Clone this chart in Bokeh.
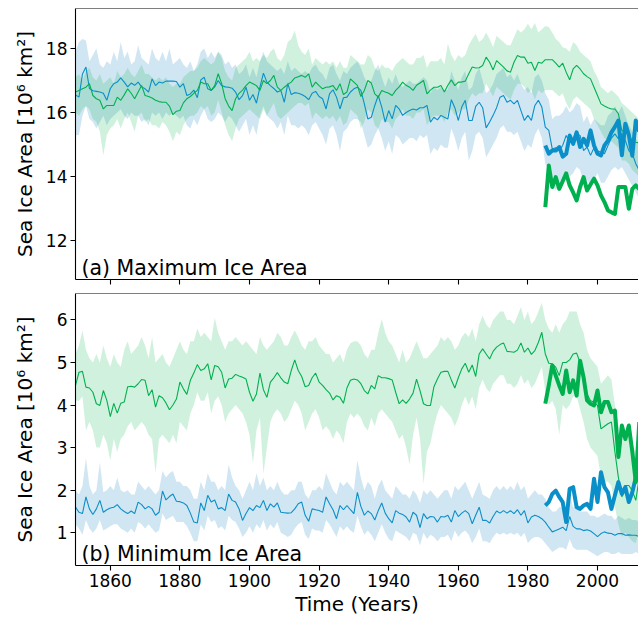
from bokeh.plotting import figure
from bokeh.layouts import column
from bokeh.models import Range1d, FixedTicker, Span, Label, CustomLabelingPolicy
from bokeh.embed import file_html
from bokeh.resources import INLINE

# ---------------- data ----------------
years = list(range(1850, 2013))
obs_years = list(range(1985, 2013))
x_ticks = [1860, 1880, 1900, 1920, 1940, 1960, 1980, 2000]
max_ticks = [12, 14, 16, 18]
min_ticks = [1, 2, 3, 4, 5, 6]

# (a) Maximum ice area, blue ensemble
max_blue_mean = [
    16.55, 16.48, 17.20, 17.42, 16.75, 16.68, 16.66, 16.64, 16.60, 16.38,
    16.75, 16.90, 16.95, 17.08, 16.95, 16.80, 16.92, 16.85, 16.95, 16.80,
    16.74, 16.64, 17.05, 16.84, 16.95, 16.92, 16.98, 16.98, 16.98, 16.97,
    16.79, 16.90, 16.53, 16.58, 16.70, 16.46, 17.02, 17.10, 16.74, 16.69,
    16.80, 17.00, 16.84, 16.80, 16.79, 16.76, 16.64, 16.40, 16.53, 16.79,
    16.38, 16.56, 16.29, 16.79, 17.23, 16.95, 16.84, 16.75, 16.64, 16.69,
    16.32, 16.90, 16.56, 16.62, 16.60, 16.56, 16.50, 16.40, 16.60, 16.66,
    16.50, 16.43, 16.11, 16.58, 16.71, 16.48, 16.11, 16.46, 16.48, 16.64,
    16.74, 16.79, 16.69, 16.27, 15.80, 15.85, 16.22, 16.53, 16.17, 15.70,
    16.06, 15.80, 16.22, 16.11, 15.91, 16.00, 16.06, 16.11, 16.08, 16.15,
    16.15, 16.22, 15.70, 15.85, 15.77, 15.91, 15.85, 15.80, 16.40, 16.15,
    15.75, 16.17, 16.38, 15.75, 15.75, 16.19, 16.32, 16.15, 15.52, 15.70,
    15.91, 16.15, 16.48, 16.53, 16.32, 16.38, 16.27, 16.38, 16.06, 15.75,
    15.91, 15.75, 16.22, 16.38, 16.17, 15.54, 15.44, 14.86, 14.90, 14.81,
    14.97, 15.28, 15.07, 15.20, 15.33, 15.28, 14.81, 14.92, 14.66, 14.90,
    14.80, 14.76, 14.71, 14.97, 15.20, 15.33, 15.18, 15.33, 15.12, 14.81,
    14.71, 14.40, 14.19]
max_blue_hi = [
    17.9, 18.2, 18.3, 18.25, 17.6, 17.8, 18.0, 17.5, 17.4, 17.6,
    17.5, 17.9, 17.6, 18.2, 17.7, 17.9, 17.5, 17.6, 18.1, 17.7,
    17.6, 17.5, 18.0, 17.7, 17.6, 17.9, 17.6, 18.0, 17.5, 17.6,
    17.7, 17.5, 17.4, 17.6, 17.3, 17.5, 17.9, 18.0, 17.7, 17.9,
    17.7, 17.9, 17.8, 17.5, 17.6, 17.4, 17.5, 17.2, 17.3, 17.5,
    17.1, 17.4, 17.1, 17.6, 17.9, 17.6, 17.5, 17.4, 17.3, 17.4,
    17.2, 17.6, 17.3, 17.4, 17.3, 17.2, 17.3, 17.2, 17.4, 17.5,
    17.3, 17.2, 17.0, 17.4, 17.5, 17.2, 17.0, 17.3, 17.2, 17.4,
    17.5, 17.6, 17.4, 17.1, 16.9, 17.0, 17.3, 17.5, 17.1, 16.8,
    17.1, 16.9, 17.2, 16.9, 16.8, 16.9, 17.0, 16.9, 16.9, 17.0,
    17.1, 17.0, 16.6, 16.8, 16.7, 16.8, 16.7, 16.7, 17.3, 17.0,
    16.7, 17.1, 17.3, 16.7, 16.8, 17.2, 17.4, 17.0, 16.6, 16.7,
    16.9, 17.2, 17.3, 17.4, 17.1, 17.2, 17.0, 17.2, 16.9, 16.7,
    16.8, 16.6, 17.1, 17.2, 17.0, 16.6, 16.4, 15.8, 15.9, 15.9,
    16.0, 16.2, 16.0, 16.1, 16.3, 16.2, 15.7, 15.9, 15.6, 15.8,
    15.7, 15.6, 15.6, 15.9, 16.0, 16.2, 16.0, 16.2, 15.9, 15.6,
    15.4, 15.2, 15.0]
max_blue_lo = [
    15.3, 15.3, 15.9, 16.2, 15.8, 15.7, 15.5, 15.7, 15.9, 15.6,
    15.8, 15.9, 16.0, 16.1, 15.9, 15.8, 16.0, 15.9, 15.9, 15.7,
    15.8, 15.6, 16.0, 15.9, 16.0, 15.8, 16.0, 15.9, 16.0, 15.9,
    15.8, 15.9, 15.6, 15.5, 15.8, 15.6, 15.9, 16.1, 15.8, 15.7,
    15.8, 16.0, 15.9, 15.7, 15.9, 15.8, 15.6, 15.4, 15.6, 15.8,
    15.3, 15.6, 15.3, 15.9, 16.2, 15.9, 15.8, 15.7, 15.5, 15.7,
    15.3, 15.9, 15.6, 15.6, 15.5, 15.6, 15.5, 15.3, 15.6, 15.7,
    15.5, 15.3, 15.0, 15.5, 15.6, 15.3, 14.8, 15.4, 15.5, 15.7,
    15.8, 15.8, 15.7, 15.3, 14.9, 15.0, 15.3, 15.5, 15.2, 14.8,
    15.1, 14.7, 15.3, 15.2, 15.0, 15.1, 15.2, 15.2, 15.1, 15.3,
    15.2, 15.3, 14.7, 14.9, 14.8, 15.0, 14.9, 14.9, 15.5, 15.2,
    14.8, 15.2, 15.4, 14.5, 14.8, 15.3, 15.4, 15.2, 14.6, 14.8,
    15.0, 15.2, 15.5, 15.6, 15.4, 15.4, 15.3, 15.4, 15.1, 14.8,
    15.0, 14.9, 15.3, 15.5, 15.2, 14.4, 14.2, 13.7, 13.55, 13.8,
    13.9, 14.2, 14.0, 14.1, 14.3, 14.2, 13.8, 13.9, 13.7, 13.9,
    14.1, 13.8, 13.8, 14.0, 14.2, 14.3, 14.2, 14.3, 14.1, 13.9,
    13.7, 13.5, 13.3]

# (a) Maximum ice area, green ensemble
max_green_mean = [
    16.64, 16.69, 16.74, 16.79, 16.90, 16.53, 16.43, 16.38, 16.11, 16.22,
    16.22, 16.22, 16.48, 16.38, 16.55, 16.74, 16.60, 16.43, 16.64, 16.84,
    16.53, 16.50, 16.45, 16.38, 16.34, 16.32, 16.32, 16.20, 15.93, 16.04,
    16.06, 16.30, 16.43, 16.50, 16.60, 16.69, 16.95, 16.90, 16.90, 16.69,
    16.84, 17.21, 16.90, 16.43, 16.20, 16.06, 16.43, 16.60, 16.70, 16.84,
    16.95, 16.90, 16.84, 16.69, 17.00, 16.90, 17.00, 17.16, 16.79, 16.69,
    16.79, 16.88, 16.95, 17.08, 17.12, 17.16, 17.10, 17.21, 16.79, 16.95,
    16.84, 16.74, 16.79, 16.80, 16.84, 16.69, 16.90, 16.56, 16.64, 17.05,
    16.95, 16.85, 16.50, 16.69, 17.00, 16.92, 16.58, 16.48, 16.69, 16.64,
    16.60, 16.53, 16.69, 16.80, 16.95, 16.85, 16.79, 16.69, 16.85, 16.92,
    17.00, 16.58, 16.70, 16.79, 16.79, 16.84, 16.64, 16.85, 17.02, 16.84,
    16.95, 16.95, 16.98, 17.21, 17.42, 17.39, 17.40, 17.47, 17.73, 17.57,
    17.33, 17.62, 17.52, 17.42, 17.30, 17.26, 17.57, 17.78, 17.73, 17.73,
    17.54, 17.57, 17.31, 17.57, 17.54, 17.65, 17.65, 17.65, 17.54, 17.42,
    17.54, 17.26, 17.02, 17.36, 17.47, 17.36, 17.21, 17.12, 17.05, 16.79,
    16.53, 16.27, 16.20, 16.15, 16.11, 16.11, 15.96, 15.44, 15.39, 15.33,
    15.10, 15.07, 15.05]
max_green_hi = [
    17.1, 17.2, 17.0, 17.3, 17.4, 17.1, 17.0, 17.2, 16.9, 17.0,
    17.1, 16.9, 17.3, 17.1, 17.2, 17.4, 17.2, 17.1, 17.3, 17.5,
    17.2, 17.2, 17.1, 17.0, 17.1, 17.0, 17.1, 16.9, 16.8, 16.9,
    16.9, 17.1, 17.2, 17.3, 17.3, 17.4, 17.6, 17.7, 17.6, 17.5,
    17.6, 17.9, 17.7, 17.3, 17.1, 17.0, 17.4, 17.5, 17.6, 17.7,
    17.9, 17.6, 17.7, 17.6, 17.8, 17.7, 17.9, 18.0, 17.7, 17.6,
    17.8, 18.2, 18.3, 18.56, 18.1, 17.9, 17.8, 18.0, 17.5, 17.7,
    17.6, 17.5, 17.6, 17.5, 17.6, 17.4, 17.6, 17.4, 17.4, 17.8,
    17.7, 17.6, 17.5, 17.5, 17.8, 17.7, 17.4, 17.3, 17.5, 17.4,
    17.4, 17.3, 17.5, 17.6, 17.7, 17.6, 17.5, 17.5, 17.7, 17.7,
    17.8, 17.4, 17.6, 17.6, 17.6, 17.7, 17.5, 18.15, 17.8, 17.6,
    17.8, 17.7, 17.8, 18.1, 18.3, 18.46, 18.2, 18.3, 18.5, 18.3,
    18.04, 18.4, 18.3, 18.2, 18.1, 18.1, 18.35, 18.6, 18.5, 18.6,
    18.77, 18.6, 18.8, 18.5, 18.6, 18.7, 18.67, 18.5, 18.3, 18.2,
    18.04, 18.0, 17.9, 18.2, 18.1, 17.9, 17.8, 17.7, 17.6, 17.3,
    17.1, 16.8, 16.7, 16.6, 16.7, 16.6, 16.5, 16.3, 16.2, 16.1,
    16.0, 15.9, 15.8]
max_green_lo = [
    16.0, 15.9, 16.1, 16.2, 16.1, 15.8, 15.7, 15.4, 14.66, 15.3,
    15.5, 15.6, 15.8, 15.5, 15.8, 16.0, 15.7, 15.4, 15.9, 16.0,
    15.7, 15.8, 15.6, 15.6, 15.5, 15.7, 15.6, 15.4, 15.1, 15.4,
    15.3, 15.6, 15.8, 15.9, 15.9, 16.0, 16.2, 16.1, 16.2, 15.9,
    16.0, 16.4, 16.0, 15.6, 15.3, 15.1, 15.5, 15.8, 15.9, 16.0,
    16.1, 16.0, 15.9, 15.8, 16.1, 15.9, 16.1, 16.3, 15.9, 15.8,
    15.9, 16.0, 16.1, 16.2, 16.3, 16.3, 16.2, 16.3, 15.8, 16.0,
    15.9, 15.8, 15.9, 15.8, 15.9, 15.7, 15.9, 15.6, 15.7, 16.1,
    16.0, 15.9, 15.5, 15.7, 16.1, 16.0, 15.6, 15.5, 15.8, 15.7,
    15.7, 15.5, 15.8, 15.9, 16.1, 15.9, 15.9, 15.8, 16.0, 16.0,
    16.1, 15.6, 15.8, 15.9, 15.9, 15.9, 15.7, 16.0, 16.1, 15.9,
    16.0, 16.1, 16.1, 16.4, 16.6, 16.5, 16.6, 16.6, 16.9, 16.7,
    16.5, 16.8, 16.7, 16.6, 16.5, 16.4, 16.7, 16.9, 16.9, 16.8,
    16.6, 16.7, 16.4, 16.7, 16.6, 16.7, 16.7, 16.7, 16.6, 16.5,
    16.6, 16.3, 16.1, 16.4, 16.5, 16.4, 16.3, 16.2, 16.1, 15.8,
    15.6, 15.4, 15.2, 15.1, 15.1, 15.0, 14.9, 14.5, 14.5, 14.4,
    14.2, 14.1, 14.0]

# (a) observations 1985-2012
max_obs_blue = [
    14.97, 14.71, 14.81, 14.81, 14.92, 14.62, 14.71, 15.28, 15.02, 15.38,
    14.92, 15.18, 14.97, 15.44, 14.97, 14.71, 14.66, 14.97, 15.12, 15.38,
    15.55, 15.75, 14.66, 15.65, 15.30, 14.65, 15.75, 15.40]
max_obs_green = [
    13.04, 14.34, 13.67, 13.98, 13.61, 13.85, 14.10, 13.72, 13.50, 13.25,
    13.67, 13.98, 13.56, 13.75, 13.93, 13.72, 13.41, 13.20, 12.94, 12.88,
    12.83, 13.67, 13.67, 13.67, 12.99, 13.61, 13.72, 13.60]

# (b) Minimum ice area, green ensemble
min_green_mean = [
    4.46, 4.77, 4.79, 4.42, 4.40, 4.30, 4.03, 3.99, 4.34, 4.11,
    3.73, 4.04, 3.81, 4.04, 4.07, 4.43, 4.44, 4.42, 4.50, 4.60,
    4.58, 4.22, 4.36, 3.95, 4.22, 4.17, 4.05, 3.89, 4.00, 4.14,
    4.54, 4.38, 4.25, 4.58, 4.75, 4.95, 4.81, 4.85, 4.97, 4.59,
    4.93, 4.90, 4.77, 4.40, 4.61, 4.63, 4.72, 4.68, 4.65, 4.61,
    4.30, 4.09, 4.26, 4.75, 4.36, 4.18, 4.54, 4.64, 4.76, 4.64,
    4.54, 4.50, 4.81, 5.06, 4.81, 4.67, 4.43, 4.46, 4.64, 4.75,
    4.54, 4.46, 4.36, 4.28, 4.12, 4.22, 4.18, 4.04, 4.40, 4.58,
    4.61, 4.59, 4.50, 4.34, 4.26, 4.46, 4.38, 4.69, 4.64, 4.64,
    4.62, 4.59, 4.30, 4.03, 4.12, 4.04, 4.14, 4.28, 4.61, 4.34,
    4.03, 3.99, 3.99, 4.43, 4.61, 4.77, 4.79, 4.79, 4.59, 4.40,
    4.64, 4.85, 4.98, 4.77, 4.94, 4.67, 5.20, 5.32, 5.20, 5.08,
    5.26, 5.36, 5.42, 5.46, 5.26, 5.25, 5.24, 5.29, 5.46, 5.24,
    5.34, 5.19, 5.28, 5.47, 5.71, 5.20, 4.98, 4.97, 4.89, 4.69,
    5.00, 5.00, 5.06, 5.20, 5.22, 5.00, 4.69, 4.25, 4.10, 4.07,
    3.99, 3.44, 3.50, 3.56, 3.60, 2.90, 2.30, 1.84, 2.11, 2.11,
    1.99, 1.76, 2.30]
min_green_hi = [
    5.2, 5.4, 5.75, 5.3, 5.1, 5.0, 5.2, 5.0, 5.4, 5.1,
    4.9, 5.2, 5.0, 4.9, 5.3, 5.5, 5.2, 5.3, 5.4, 5.6,
    5.4, 5.1, 5.6, 5.0, 5.1, 5.2, 5.0, 4.9, 5.1, 5.3,
    5.5, 5.3, 5.2, 5.5, 5.5, 5.8, 5.6, 5.7, 5.6, 5.5,
    6.05, 5.7, 5.5, 5.3, 5.5, 5.5, 5.6, 5.5, 5.4, 5.5,
    5.4, 5.3, 5.2, 5.6, 5.4, 5.3, 5.4, 5.5, 5.7, 5.6,
    5.4, 5.4, 5.6, 5.75, 5.6, 5.4, 5.3, 5.5, 5.5, 5.6,
    5.4, 5.3, 5.2, 5.2, 5.0, 5.1, 5.2, 5.0, 5.3, 5.45,
    5.5, 5.5, 5.4, 5.2, 5.1, 5.3, 5.3, 5.7, 6.02, 5.7,
    5.5, 5.4, 5.2, 5.0, 5.3, 5.0, 5.1, 5.3, 5.5, 5.3,
    5.1, 5.1, 5.2, 5.3, 5.4, 5.6, 5.5, 5.6, 5.5, 5.3,
    5.4, 5.6, 5.7, 5.6, 5.8, 5.5, 5.9, 6.1, 5.9, 5.8,
    6.0, 6.1, 6.2, 6.2, 6.0, 6.0, 5.9, 6.1, 6.3, 6.0,
    6.2, 5.9, 6.0, 6.2, 6.4, 6.0, 5.8, 5.7, 5.9, 5.7,
    5.9, 6.0, 6.2, 6.2, 6.2, 5.9, 5.7, 5.3, 5.1, 5.0,
    4.9, 4.5, 4.6, 4.7, 4.6, 4.0, 3.5, 3.1, 3.3, 3.3,
    3.1, 2.9, 3.2]
min_green_lo = [
    4.1, 4.1, 4.2, 3.4, 3.6, 3.4, 3.0, 3.0, 3.3, 3.1,
    2.7, 3.2, 2.9, 3.2, 3.3, 3.5, 3.6, 3.4, 3.5, 3.6,
    3.5, 3.3, 3.2, 2.4, 3.2, 3.3, 3.2, 3.1, 3.3, 3.1,
    3.6, 3.5, 3.4, 3.8, 4.0, 4.3, 4.1, 4.1, 4.3, 3.8,
    4.1, 4.2, 4.0, 3.6, 3.8, 3.9, 4.0, 3.9, 3.8, 3.6,
    3.3, 2.62, 3.4, 3.7, 2.38, 3.0, 3.6, 3.8, 3.9, 3.8,
    3.6, 3.7, 3.9, 4.1, 4.0, 3.8, 3.4, 3.6, 3.8, 3.9,
    3.7, 3.4, 3.5, 3.4, 3.2, 3.4, 3.3, 3.1, 3.6, 3.8,
    3.7, 3.8, 3.7, 3.5, 3.4, 3.7, 3.5, 3.8, 3.9, 3.8,
    3.7, 3.6, 3.4, 3.2, 3.3, 3.0, 2.6, 3.3, 3.7, 3.2,
    2.15, 2.9, 3.1, 3.5, 3.8, 4.0, 3.9, 3.8, 3.7, 3.5,
    3.7, 4.0, 4.2, 4.0, 4.2, 3.9, 4.4, 4.6, 4.4, 4.3,
    4.5, 4.6, 4.7, 4.7, 4.5, 4.5, 4.4, 4.5, 4.7, 4.5,
    4.6, 4.4, 4.5, 4.7, 4.9, 4.3, 4.0, 4.1, 3.9, 3.3,
    4.0, 3.9, 4.0, 4.2, 4.2, 3.9, 3.6, 3.2, 3.0, 2.9,
    2.8, 2.3, 2.2, 2.2, 2.1, 1.6, 1.2, 0.9, 1.0, 0.9,
    0.8, 0.75, 1.1]

# (b) Minimum ice area, blue ensemble
min_blue_mean = [
    1.60, 1.48, 1.45, 1.84, 1.56, 1.43, 1.56, 1.76, 1.48, 1.54,
    1.58, 1.60, 1.66, 1.56, 1.50, 1.45, 1.51, 1.45, 1.72, 1.66,
    1.56, 1.62, 1.56, 1.41, 1.48, 1.98, 1.77, 1.85, 1.91, 1.74,
    1.73, 1.70, 1.64, 1.46, 1.25, 1.23, 1.70, 1.52, 1.88, 1.72,
    1.77, 1.56, 1.59, 1.52, 1.91, 1.76, 1.72, 1.56, 1.29, 1.45,
    1.59, 1.52, 1.64, 1.59, 1.76, 1.52, 1.68, 1.60, 1.70, 1.48,
    1.47, 1.46, 1.47, 1.56, 1.68, 1.72, 1.41, 1.27, 1.56, 1.54,
    1.52, 1.48, 1.84, 1.68, 1.54, 1.33, 1.64, 1.54, 1.64, 1.54,
    1.45, 1.95, 1.62, 1.41, 1.51, 1.45, 1.30, 1.52, 1.70, 1.46,
    1.33, 1.23, 1.52, 1.46, 1.43, 1.37, 1.25, 1.48, 1.41, 1.12,
    1.45, 1.33, 1.38, 1.37, 1.25, 1.38, 1.37, 1.41, 1.25, 1.52,
    1.38, 1.46, 1.52, 1.45, 1.21, 1.41, 1.60, 1.29, 1.29, 1.23,
    1.38, 1.51, 1.46, 1.52, 1.46, 1.52, 1.45, 1.54, 1.41, 1.52,
    1.23, 1.37, 1.41, 1.38, 1.33, 1.25, 1.13, 1.02, 1.05, 1.09,
    1.13, 1.05, 1.38, 1.15, 1.09, 1.09, 1.05, 1.07, 1.04, 0.98,
    0.91, 0.98, 1.02, 0.99, 0.98, 0.94, 0.98, 0.98, 0.94, 0.95,
    0.94, 0.94, 0.91]
min_blue_hi = [
    2.0, 1.9, 2.1, 2.75, 2.1, 1.9, 2.0, 2.65, 1.95, 2.0,
    2.1, 2.0, 2.3, 2.0, 1.95, 2.0, 1.9, 1.9, 2.2, 2.1,
    2.0, 2.1, 2.0, 1.9, 2.0, 2.45, 2.3, 2.4, 2.45, 2.2,
    2.2, 2.1, 2.1, 2.0, 1.8, 1.8, 2.2, 2.0, 2.4, 2.2,
    2.2, 2.0, 2.1, 2.0, 2.6, 2.3, 2.1, 2.0, 1.8, 2.0,
    2.2, 2.0, 2.4, 2.1, 2.3, 2.0, 2.1, 2.0, 2.2, 2.0,
    1.9, 1.9, 2.0, 2.0, 2.2, 2.2, 1.9, 1.8, 2.0, 2.0,
    2.1, 2.0, 2.4, 2.2, 2.0, 1.9, 2.2, 2.1, 2.2, 2.1,
    2.0, 2.7, 2.3, 2.0, 2.2, 2.1, 1.8, 2.1, 2.25, 2.0,
    1.9, 1.8, 2.1, 2.0, 1.9, 1.9, 1.8, 2.0, 1.9, 1.7,
    2.0, 1.9, 2.0, 1.9, 1.8, 1.9, 2.0, 2.0, 1.8, 2.1,
    2.0, 2.1, 2.2, 2.0, 1.8, 2.0, 2.2, 1.9, 1.85, 1.8,
    2.0, 2.1, 2.0, 2.1, 2.0, 2.1, 2.0, 2.2, 2.0, 2.1,
    1.8, 1.9, 2.0, 1.9, 1.9, 1.8, 1.6, 1.5, 1.5, 1.6,
    1.6, 1.5, 1.9, 1.6, 1.6, 1.5, 1.5, 1.5, 1.4, 1.4,
    1.35, 1.4, 1.45, 1.4, 1.4, 1.3, 1.4, 1.35, 1.3, 1.35,
    1.3, 1.3, 1.25]
min_blue_lo = [
    1.2, 1.1, 0.95, 1.3, 1.1, 1.0, 1.1, 1.3, 1.05, 1.1,
    1.15, 1.2, 1.2, 1.1, 1.05, 1.0, 1.1, 1.0, 1.25, 1.2,
    1.1, 1.2, 1.1, 1.0, 1.05, 1.45, 1.3, 1.35, 1.4, 1.25,
    1.25, 1.25, 1.15, 1.0, 0.8, 0.8, 1.2, 1.05, 1.4, 1.25,
    1.3, 1.1, 1.15, 1.05, 1.4, 1.3, 1.25, 1.1, 0.9, 1.0,
    1.15, 1.0, 1.2, 1.1, 1.3, 1.05, 1.2, 1.1, 1.25, 1.0,
    0.95, 0.9, 0.95, 1.1, 1.2, 1.25, 0.95, 0.85, 1.1, 1.05,
    1.05, 1.0, 1.3, 1.2, 1.05, 0.9, 1.15, 1.05, 1.15, 1.05,
    1.0, 1.4, 1.15, 0.95, 1.05, 0.95, 0.8, 1.0, 1.2, 1.0,
    0.85, 0.8, 1.05, 1.0, 0.95, 0.9, 0.8, 1.0, 0.95, 0.7,
    1.0, 0.85, 0.95, 0.9, 0.8, 0.9, 0.9, 0.95, 0.8, 1.05,
    0.9, 1.0, 1.05, 0.95, 0.75, 0.9, 1.1, 0.8, 0.8, 0.75,
    0.9, 1.0, 0.95, 1.0, 0.95, 1.0, 0.95, 1.0, 0.9, 1.0,
    0.75, 0.85, 0.9, 0.9, 0.85, 0.75, 0.65, 0.55, 0.6, 0.65,
    0.65, 0.6, 0.85, 0.65, 0.6, 0.6, 0.6, 0.6, 0.55, 0.5,
    0.45, 0.5, 0.55, 0.55, 0.5, 0.5, 0.55, 0.5, 0.5, 0.5,
    0.5, 0.55, 0.5]

# (b) observations 1985-2012
min_obs_green = [
    4.03, 4.46, 4.93, 4.69, 4.46, 4.26, 4.81, 4.30, 4.58, 4.22,
    5.04, 4.65, 4.11, 4.03, 3.99, 4.34, 3.83, 4.07, 4.07, 3.83,
    3.87, 2.78, 3.52, 3.20, 3.52, 2.90, 2.19, 3.60]
min_obs_blue = [
    1.64, 1.72, 1.91, 1.99, 1.84, 1.72, 1.25, 2.03, 2.07, 1.60,
    1.56, 1.64, 1.68, 1.56, 2.27, 1.72, 2.42, 2.07, 1.95, 1.56,
    1.88, 2.19, 1.91, 2.07, 1.72, 1.95, 2.30, 2.23]

for arr in [max_blue_mean, max_blue_hi, max_blue_lo, max_green_mean, max_green_hi,
            max_green_lo, min_green_mean, min_green_hi, min_green_lo,
            min_blue_mean, min_blue_hi, min_blue_lo]:
    assert len(arr) == len(years), len(arr)
for arr in [max_obs_blue, max_obs_green, min_obs_green, min_obs_blue]:
    assert len(arr) == len(obs_years), len(arr)

# ---------------- style ----------------
BLUE = "#0a8fc8"
GREEN = "#00b04f"
BLUE_FILL = "#2b8cc4"
GREEN_FILL = "#00b050"
FONT = "DejaVu Sans"
X0, X1 = 1850, 2011.78

no_labels = CustomLabelingPolicy(code="""
for (const i of indices)
  indices.unset(i)
""")


def make_panel(height, ylo, yhi, yticks, top_border, bottom_border,
               show_xlabels, ylabel_standoff):
    p = figure(width=638, height=height, output_backend="svg",
               toolbar_location=None, x_range=Range1d(X0, X1),
               y_range=Range1d(ylo, yhi),
               min_border_left=75, min_border_right=0,
               min_border_top=top_border, min_border_bottom=bottom_border)
    p.background_fill_color = "white"
    p.border_fill_color = "white"
    p.outline_line_color = None
    p.xgrid.visible = False
    p.ygrid.visible = False

    for ax in (p.xaxis[0], p.yaxis[0]):
        ax.axis_line_color = "black"
        ax.axis_line_width = 1.1
        ax.major_tick_line_color = "black"
        ax.major_tick_line_width = 1.1
        ax.major_tick_out = 5
        ax.major_tick_in = 0
        ax.minor_tick_out = 0
        ax.minor_tick_in = 0
        ax.major_label_text_font = FONT
        ax.major_label_text_font_size = "17px"
        ax.major_label_text_color = "black"
        ax.axis_label_text_font = FONT
        ax.axis_label_text_font_size = "20px"
        ax.axis_label_text_font_style = "normal"
        ax.axis_label_text_color = "black"

    p.xaxis.ticker = FixedTicker(ticks=x_ticks)
    p.yaxis.ticker = FixedTicker(ticks=yticks)
    p.yaxis.major_label_standoff = 3
    p.yaxis.axis_label = "Sea Ice Area [10\u2076 km\u00b2]"
    p.yaxis.axis_label_standoff = ylabel_standoff

    if show_xlabels:
        p.xaxis.major_label_standoff = 3
        p.xaxis.axis_label = "Time (Years)"
        p.xaxis.axis_label_standoff = 2
    else:
        p.xaxis.major_label_text_font_size = "0px"
        p.xaxis.major_label_standoff = 0
        p.xaxis.major_label_policy = no_labels

    top_line = Span(location=yhi, dimension="width", line_color="black",
                    line_width=1.1)
    p.add_layout(top_line)
    return p


top = make_panel(293, 10.78, 19.25, max_ticks, 8, 14, False, 6)
bot = make_panel(326, 0.23, 6.62, min_ticks, 0, 54, True, 17)

# ---- panel (a) ----
top.varea(x=years, y1=max_blue_lo, y2=max_blue_hi, fill_color=BLUE_FILL,
          fill_alpha=0.22)
top.varea(x=years, y1=max_green_lo, y2=max_green_hi, fill_color=GREEN_FILL,
          fill_alpha=0.18)
top.line(years, max_blue_mean, line_color=BLUE, line_width=1.1)
top.line(years, max_green_mean, line_color=GREEN, line_width=1.1)
top.line(obs_years, max_obs_blue, line_color=BLUE, line_width=4,
         line_join="round")
top.line(obs_years, max_obs_green, line_color=GREEN, line_width=4,
         line_join="round")
top.add_layout(Label(x=1851.7, y=11.13, text="(a) Maximum Ice Area",
                     text_font=FONT, text_font_size="20.5px",
                     text_color="black", text_baseline="alphabetic"))

# ---- panel (b) ----
bot.varea(x=years, y1=min_blue_lo, y2=min_blue_hi, fill_color=BLUE_FILL,
          fill_alpha=0.22)
bot.varea(x=years, y1=min_green_lo, y2=min_green_hi, fill_color=GREEN_FILL,
          fill_alpha=0.18)
bot.line(years, min_blue_mean, line_color=BLUE, line_width=1.1)
bot.line(years, min_green_mean, line_color=GREEN, line_width=1.1)
bot.line(obs_years, min_obs_blue, line_color=BLUE, line_width=4,
         line_join="round")
bot.line(obs_years, min_obs_green, line_color=GREEN, line_width=4,
         line_join="round")
bot.add_layout(Label(x=1851.7, y=0.51, text="(b) Minimum Ice Area",
                     text_font=FONT, text_font_size="20.5px",
                     text_color="black", text_baseline="alphabetic"))

layout = column(top, bot, spacing=0)
open("out.html", "w").write(file_html(layout, INLINE))
